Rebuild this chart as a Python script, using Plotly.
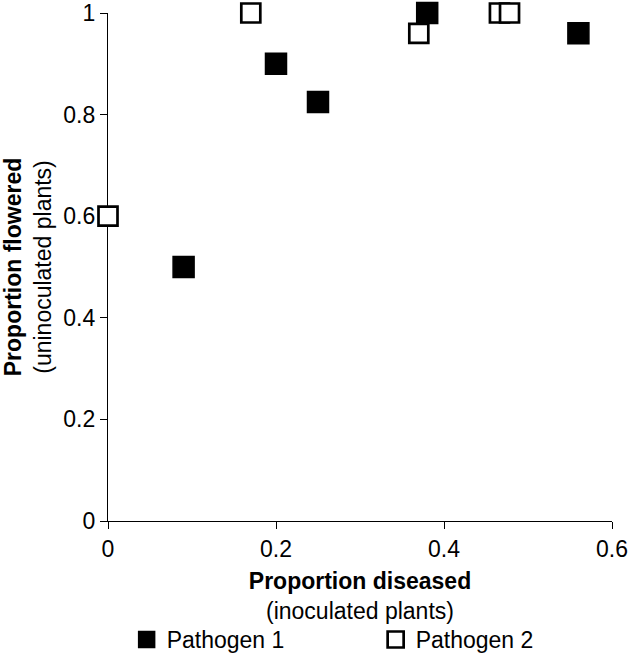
import plotly.graph_objects as go

# Pathogen 1 (filled squares)
p1_x = [0.09, 0.20, 0.25, 0.38, 0.56]
p1_y = [0.50, 0.90, 0.825, 1.00, 0.96]
# Pathogen 2 (open squares)
p2_x = [0.00, 0.17, 0.37, 0.466, 0.478]
p2_y = [0.60, 1.00, 0.96, 1.00, 1.00]

x_ticks = [0, 0.2, 0.4, 0.6]
x_ticklabels = ["0", "0.2", "0.4", "0.6"]
y_ticks = [0, 0.2, 0.4, 0.6, 0.8, 1]
y_ticklabels = ["0", "0.2", "0.4", "0.6", "0.8", "1"]

FONT = "Liberation Sans, Arial, sans-serif"
FS = 23

fig = go.Figure()
fig.add_trace(go.Scatter(
    x=p1_x, y=p1_y, mode="markers", name="Pathogen 1",
    marker=dict(symbol="square", size=21, color="black",
                line=dict(color="black", width=1.5)),
    cliponaxis=False,
))
fig.add_trace(go.Scatter(
    x=p2_x, y=p2_y, mode="markers", name="Pathogen 2",
    marker=dict(symbol="square", size=19, color="white",
                line=dict(color="black", width=2.7)),
    cliponaxis=False,
))

axis_common = dict(
    showgrid=False, zeroline=False, showline=True, linecolor="black",
    linewidth=1.2, ticks="outside", ticklen=7, tickwidth=1.2, tickcolor="black",
    tickfont=dict(family=FONT, size=FS, color="black"),
    layer="below traces",
)

fig.update_layout(
    width=628, height=667,
    margin=dict(l=108, r=16, t=13, b=146, autoexpand=False),
    paper_bgcolor="white", plot_bgcolor="white",
    font=dict(family=FONT, size=FS, color="black"),
    xaxis=dict(range=[0, 0.6], tickvals=x_ticks, ticktext=x_ticklabels,
               title=dict(text="<b>Proportion diseased</b><br>(inoculated plants)",
                          font=dict(family=FONT, size=FS), standoff=12),
               **axis_common),
    yaxis=dict(range=[0, 1], tickvals=y_ticks, ticktext=y_ticklabels,
               title=dict(text="<b>Proportion flowered</b><br>(uninoculated plants)",
                          font=dict(family=FONT, size=FS), standoff=6),
               **axis_common),
    showlegend=True,
    legend=dict(orientation="h", x=0.037, xanchor="left", y=-0.191, yanchor="top",
                font=dict(family=FONT, size=FS, color="black"),
                itemwidth=30, entrywidth=204, tracegroupgap=0),
)

# remove the default page margin so the figure fills the window exactly
fig.write_html("out.html", config={"displayModeBar": False},
               post_script="document.body.style.margin='0px';")
